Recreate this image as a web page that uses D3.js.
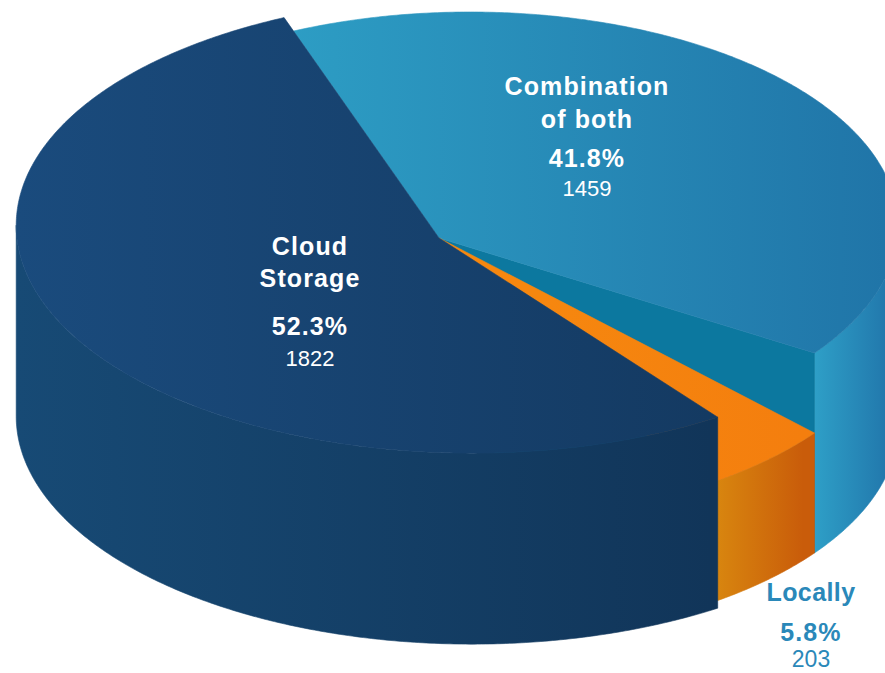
<!DOCTYPE html>
<html><head><meta charset="utf-8">
<script src="https://cdn.jsdelivr.net/npm/d3@7"></script>
<style>html,body{margin:0;padding:0;background:#fff;overflow:hidden}</style>
</head><body>
<svg id="chart" width="885" height="673"></svg>
<script>
// ---- data ----
const categories = ["Combination of both", "Locally", "Cloud Storage"];
const counts = [1459, 203, 1822];
const percentLabels = ["41.8%", "5.8%", "52.3%"];
const nameLines = [["Combination", "of both"], ["Locally"], ["Cloud", "Storage"]];

// ---- layout & style ----
const W = 885, H = 673;
const ell = {cx: 470, cy: 226, rx: 428, ry: 214};
const apex = [439, 238];
const startAngle = -0.425;
const sliceStyle = [
  {scale: 1, depth: 200, rimDrop: 0, top: ["#2d9dc4", "#2075a8"], topX: [290, 885],
   side: ["#30a5cb", "#2279ad"], sideX: [803, 885], face: "#0c789f"},
  {scale: 1, depth: 200, rimDrop: 80, top: ["#f6870f", "#f47e0e"], topX: [540, 803],
   side: ["#d9880f", "#c95c0a"], sideX: [712, 803]},
  {scale: 1.065, depth: 191, rimDrop: 0, top: ["#1a4b7d", "#143a62"], topX: [16, 712],
   side: ["#174a75", "#113559"], sideX: [16, 712]}
];
const labelLayout = [
  {x: 587, name: [95, 128], pct: 167, cnt: 196, color: "#ffffff", cntSize: 22},
  {x: 811, name: [601], pct: 641, cnt: 667, color: "#2a88b9", cntSize: 23},
  {x: 310, name: [255, 287], pct: 335, cnt: 366, color: "#ffffff", cntSize: 22}
];

const svg = d3.select("#chart");
const defs = svg.append("defs");

function grad(id, colors, xs) {
  const g = defs.append("linearGradient").attr("id", id)
    .attr("gradientUnits", "userSpaceOnUse")
    .attr("x1", xs[0]).attr("x2", xs[1]).attr("y1", 0).attr("y2", 0);
  g.append("stop").attr("offset", 0).attr("stop-color", colors[0]);
  g.append("stop").attr("offset", 1).attr("stop-color", colors[1]);
  return `url(#${id})`;
}

const pie = d3.pie().sort(null).startAngle(startAngle).endAngle(startAngle + 2 * Math.PI);
const arcs = pie(counts);

// projection: d3 angle a, radial scale s, vertical drop dy
const sx = d3.scaleLinear().domain([-1, 1]).range([ell.cx - ell.rx, ell.cx + ell.rx]);
const sy = d3.scaleLinear().domain([-1, 1]).range([ell.cy - ell.ry, ell.cy + ell.ry]);
function proj(a, s, dy) {
  const x = sx(Math.sin(a)), y = sy(-Math.cos(a));
  return [apex[0] + s * (x - apex[0]), apex[1] + s * (y - apex[1]) + dy];
}
function samples(a0, a1) {
  const n = Math.max(2, Math.ceil(Math.abs(a1 - a0) / (Math.PI / 360)));
  return d3.range(n + 1).map(i => a0 + (a1 - a0) * i / n);
}
function frontIntervals(a0, a1) {
  const out = [];
  for (let k = -1; k <= 1; k++) {
    const lo = Math.max(a0, Math.PI / 2 + 2 * Math.PI * k);
    const hi = Math.min(a1, 3 * Math.PI / 2 + 2 * Math.PI * k);
    if (hi > lo) out.push([lo, hi]);
  }
  return out;
}
const line = d3.line();

const layers = svg.append("g");

arcs.forEach((d, i) => {
  const st = sliceStyle[i];
  const g = layers.append("g").attr("class", "slice");
  const topFill = grad("top" + i, st.top, st.topX);
  const sideFill = grad("side" + i, st.side, st.sideX);

  // outer side wall (front half only)
  frontIntervals(d.startAngle, d.endAngle).forEach(([lo, hi]) => {
    const as = samples(lo, hi);
    const pts = as.map(a => proj(a, st.scale, st.rimDrop))
      .concat(as.slice().reverse().map(a => proj(a, st.scale, st.depth)));
    g.append("path").attr("d", line(pts) + "Z")
      .attr("fill", sideFill).attr("stroke", sideFill).attr("stroke-width", 0.6);
  });

  // radial end face (visible where next slice is lower)
  if (st.face) {
    const a = d.endAngle;
    const pts = [apex, proj(a, st.scale, 0), proj(a, st.scale, st.depth), [apex[0], apex[1] + st.depth]];
    g.append("path").attr("d", line(pts) + "Z")
      .attr("fill", st.face).attr("stroke", st.face).attr("stroke-width", 0.6);
  }

  // top face (sloped for slices with rimDrop)
  const as = samples(d.startAngle, d.endAngle);
  const topPts = [apex].concat(as.map(a => proj(a, st.scale, st.rimDrop)));
  g.append("path").attr("d", line(topPts) + "Z")
    .attr("fill", topFill).attr("stroke", topFill).attr("stroke-width", 0.6)
    .attr("stroke-linejoin", "round");
});

// labels
const font = "'Liberation Sans', Arial, Helvetica, sans-serif";
const lab = svg.append("g").attr("font-family", font).attr("text-anchor", "middle");
categories.forEach((c, i) => {
  const L = labelLayout[i];
  nameLines[i].forEach((t, j) => {
    lab.append("text").attr("x", L.x).attr("y", L.name[j]).text(t)
      .attr("fill", L.color).attr("font-size", 25).attr("font-weight", "bold")
      .attr("letter-spacing", i === 1 ? 0.4 : 1.1);
  });
  lab.append("text").attr("x", L.x).attr("y", L.pct).text(percentLabels[i])
    .attr("fill", L.color).attr("font-size", 25).attr("font-weight", "bold")
    .attr("letter-spacing", 1.1);
  lab.append("text").attr("x", L.x).attr("y", L.cnt).text(d3.format("d")(counts[i]))
    .attr("fill", L.color).attr("font-size", L.cntSize);
});
</script>
</body></html>
